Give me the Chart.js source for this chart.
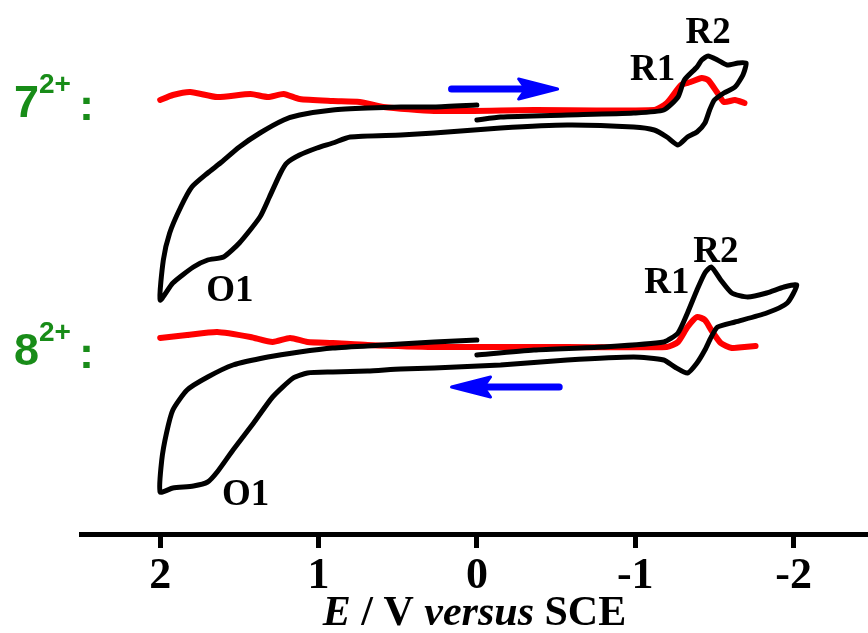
<!DOCTYPE html>
<html lang="en">
<head>
<meta charset="UTF-8">
<title>Cyclic voltammograms</title>
<style>
    body { margin: 0; background: #fff; }
    .box { width: 868px; height: 633px; }
</style>
</head>
<body>
<div class="box"><canvas id="cvChart"></canvas></div>
<script src="https://cdn.jsdelivr.net/npm/chart.js@4.4.1/dist/chart.umd.min.js"></script>
<script>
// potential (V vs SCE) and offset current (arb. units) along each scan
const e7Cv = [0.00, -0.15, -0.57, -0.99, -1.18, -1.27, -1.31, -1.39, -1.42, -1.46, -1.52, -1.58, -1.65, -1.70,
    -1.68, -1.63, -1.56, -1.50, -1.47, -1.44, -1.39, -1.33, -1.27, -1.20, -1.12, -0.99, -0.57, -0.15, 0.27,
    0.48, 0.80, 0.91, 1.01, 1.12, 1.20, 1.24, 1.31, 1.37, 1.50, 1.60, 1.70, 1.79, 1.92, 2.00,
    1.98, 1.94, 1.87, 1.80, 1.70, 1.62, 1.50, 1.37, 1.22, 1.12, 0.91, 0.69, 0.48, 0.27, 0.00];
const i7Cv = [41.4, 41.7, 41.9, 42.1, 42.4, 43.7, 45.4, 46.7, 47.4, 47.8, 47.4, 46.9, 47.1, 47.1,
    45.9, 44.7, 44.1, 43.4, 42.4, 41.1, 40.2, 39.7, 38.9, 39.7, 40.4, 40.7, 40.9, 40.6, 40.1,
    39.9, 39.7, 39.1, 38.6, 37.9, 37.1, 36.1, 33.7, 31.7, 29.1, 27.7, 27.4, 26.7, 25.1, 23.4,
    27.4, 30.1, 32.7, 34.7, 36.1, 37.1, 38.7, 40.1, 41.4, 41.9, 42.4, 42.6, 42.7, 42.7, 42.9];

const e7Dpv = [2.00, 1.92, 1.81, 1.64, 1.43, 1.32, 1.22, 1.12, 0.91, 0.74, 0.59, 0.27, -0.36, -1.12,
    -1.20, -1.29, -1.35, -1.42, -1.46, -1.52, -1.56, -1.63, -1.69];
const i7Dpv = [43.4, 43.9, 44.2, 43.7, 44.0, 43.7, 44.0, 43.5, 43.3, 43.2, 42.7, 42.3, 42.4, 42.4,
    43.1, 44.9, 45.2, 45.6, 45.4, 44.1, 43.2, 43.4, 43.1];

const e8Cv = [0.00, -0.36, -0.79, -1.18, -1.27, -1.33, -1.39, -1.44, -1.48, -1.54, -1.61, -1.71, -1.83, -1.94, -2.02,
    -1.96, -1.83, -1.63, -1.52, -1.48, -1.44, -1.39, -1.33, -1.25, -1.18, -0.99, -0.57, -0.15, 0.27,
    0.48, 0.69, 0.91, 1.07, 1.16, 1.29, 1.41, 1.54, 1.64, 1.70, 1.79, 1.92, 2.00,
    1.99, 1.96, 1.92, 1.83, 1.70, 1.54, 1.32, 1.12, 0.91, 0.59, 0.27, 0.00];
const i8Cv = [17.9, 18.4, 18.7, 19.2, 20.1, 22.1, 24.4, 26.1, 26.7, 25.4, 24.1, 23.7, 24.1, 24.7, 24.9,
    23.1, 22.1, 21.2, 20.7, 19.7, 18.4, 17.1, 16.1, 16.7, 17.4, 17.7, 17.4, 16.9, 16.6,
    16.5, 16.3, 16.2, 16.1, 15.6, 13.7, 11.1, 8.4, 6.2, 5.2, 4.8, 4.6, 4.2,
    7.4, 10.1, 12.4, 14.4, 15.7, 16.9, 17.7, 18.2, 18.6, 18.9, 19.2, 19.4];

const e8Dpv = [2.00, 1.83, 1.64, 1.43, 1.29, 1.18, 1.07, 0.91, 0.69, 0.27, -0.57, -1.20,
    -1.27, -1.33, -1.39, -1.44, -1.48, -1.54, -1.61, -1.69, -1.76];
const i8Dpv = [19.6, 19.9, 20.2, 19.7, 19.2, 19.6, 19.2, 19.1, 18.9, 18.7, 18.7, 18.7,
    19.2, 20.7, 21.7, 21.4, 20.4, 19.1, 18.6, 18.7, 18.8];

const xTicks = [2, 1, 0, -1, -2];

// peak labels: text, potential, current at baseline
const peakText = ['R1', 'R2', 'O1', 'R1', 'R2', 'O1'];
const peakE = [-1.11, -1.46, 1.56, -1.20, -1.51, 1.46];
const peakI = [45.4, 49.1, 23.3, 24.1, 27.2, 2.9];

// scan direction arrows: from, to (V) and current level
const arrowFrom = [0.16, -0.52];
const arrowTo = [-0.51, 0.16];
const arrowI = [44.5, 14.7];

const compounds = ['7', '8'];
const compoundI = [41.7, 16.9];

function pts(e, i) {
    return e.map((v, k) => ({ x: v, y: i[k] }));
}

function drawArrow(ctx, x0, x1, yy) {
    const dir = Math.sign(x1 - x0);
    ctx.strokeStyle = '#0000ff';
    ctx.fillStyle = '#0000ff';
    ctx.lineCap = 'round';
    ctx.lineJoin = 'round';
    ctx.lineWidth = 7;
    ctx.beginPath();
    ctx.moveTo(x0, yy);
    ctx.lineTo(x1 - dir * 30, yy);
    ctx.stroke();
    ctx.lineWidth = 3;
    ctx.beginPath();
    ctx.moveTo(x1, yy);
    ctx.lineTo(x1 - dir * 39, yy - 10);
    ctx.lineTo(x1 - dir * 32, yy);
    ctx.lineTo(x1 - dir * 39, yy + 10);
    ctx.closePath();
    ctx.fill();
    ctx.stroke();
}

const overlay = {
    id: 'overlay',
    afterDatasetsDraw(chart) {
        const { ctx, scales: { x, y }, chartArea } = chart;
        ctx.save();

        ctx.fillStyle = '#000';
        ctx.textAlign = 'center';
        ctx.textBaseline = 'alphabetic';
        ctx.font = 'bold 37px "Liberation Serif"';
        peakText.forEach((t, k) => {
            ctx.fillText(t, x.getPixelForValue(peakE[k]), y.getPixelForValue(peakI[k]));
        });

        arrowFrom.forEach((v, k) => {
            drawArrow(ctx, x.getPixelForValue(v), x.getPixelForValue(arrowTo[k]), y.getPixelForValue(arrowI[k]));
        });

        // compound labels on the left
        ctx.fillStyle = '#188c18';
        ctx.textAlign = 'left';
        compounds.forEach((c, k) => {
            const by = y.getPixelForValue(compoundI[k]);
            ctx.font = 'bold 45px "Liberation Sans"';
            ctx.fillText(c, 14, by);
            ctx.font = 'bold 28px "Liberation Sans"';
            ctx.fillText('2+', 39, by - 24);
            ctx.font = 'bold 45px "Liberation Sans"';
            ctx.fillText(':', 79, by + 3);
        });

        // axis title with italic parts
        const parts = [['E', 'italic bold'], [' / V ', 'bold'], ['versus', 'italic bold'], [' SCE', 'bold']];
        ctx.fillStyle = '#000';
        let w = 0;
        parts.forEach(p => { ctx.font = p[1] + ' 42px "Liberation Serif"'; w += ctx.measureText(p[0]).width; });
        let tx = (chartArea.left + chartArea.right) / 2 - w / 2;
        parts.forEach(p => {
            ctx.font = p[1] + ' 42px "Liberation Serif"';
            ctx.fillText(p[0], tx, 625);
            tx += ctx.measureText(p[0]).width;
        });

        ctx.restore();
    }
};

const line = (data, color, width) => ({ data: data, borderColor: color, backgroundColor: color, borderWidth: width });

new Chart(document.getElementById('cvChart'), {
    type: 'line',
    data: {
        datasets: [
            line(pts(e7Cv, i7Cv), '#000', 5),
            line(pts(e8Cv, i8Cv), '#000', 5),
            line(pts(e7Dpv, i7Dpv), '#ff0000', 6),
            line(pts(e8Dpv, i8Dpv), '#ff0000', 6)
        ]
    },
    options: {
        responsive: true,
        maintainAspectRatio: false,
        animation: false,
        layout: { padding: { left: 81, right: 0, top: 0, bottom: 0 } },
        plugins: { legend: { display: false }, tooltip: { enabled: false } },
        elements: {
            point: { radius: 0 },
            line: { tension: 0.2, borderCapStyle: 'round', borderJoinStyle: 'round' }
        },
        scales: {
            x: {
                type: 'linear',
                reverse: true,
                min: -2.47,
                max: 2.5,
                afterFit(scale) { scale.height = 99; },
                afterBuildTicks(scale) { scale.ticks = xTicks.map(v => ({ value: v })); },
                border: { color: '#000', width: 5 },
                grid: { drawOnChartArea: false, tickLength: 14, tickWidth: 5, tickColor: '#000' },
                ticks: {
                    color: '#000',
                    padding: 2,
                    maxRotation: 0,
                    font: { family: 'Liberation Serif', size: 44, weight: 'bold' },
                    callback: v => String(v)
                }
            },
            y: { display: false, min: 0, max: 53.4 }
        }
    },
    plugins: [overlay]
});
</script>
</body>
</html>
